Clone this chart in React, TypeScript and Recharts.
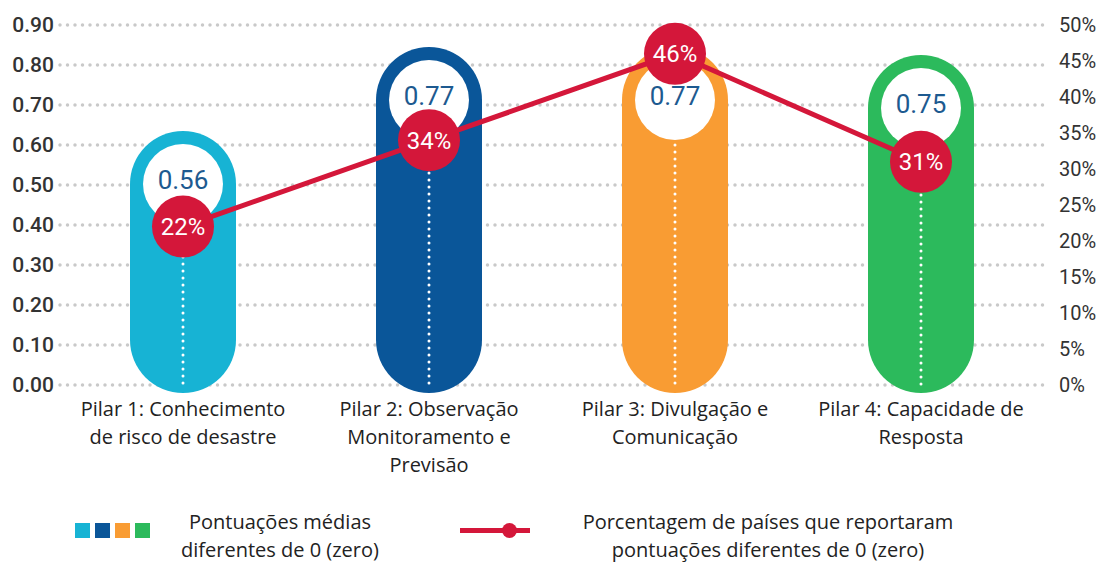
import { ComposedChart, Bar, Line, XAxis, YAxis, CartesianGrid } from 'recharts';

const pillars = [
  'Pilar 1: Conhecimento\nde risco de desastre',
  'Pilar 2: Observação\nMonitoramento e\nPrevisão',
  'Pilar 3: Divulgação e\nComunicação',
  'Pilar 4: Capacidade de\nResposta',
];
const avgScores = [0.56, 0.77, 0.77, 0.75];
const countryShare = [22, 34, 46, 31];
const scoreTicks = [0, 0.1, 0.2, 0.3, 0.4, 0.5, 0.6, 0.7, 0.8, 0.9];
const shareTicks = [0, 5, 10, 15, 20, 25, 30, 35, 40, 45, 50];
const barColors = ['#17b3d4', '#0a5699', '#f99c33', '#2cba5c'];

const RED = '#d4173a';

const data = pillars.map((name, i) => ({ name, score: avgScores[i], share: countryShare[i] }));

// pill shaped bar: white disc on top with the value, dotted line down the middle
function PillBar(props: any) {
  const { x, y, width, height, index, payload } = props;
  const r = width / 2;
  const top = y - 30;
  const bottom = y + height + 8;
  const cx = x + r;
  const cy = top + r;
  const inner = r - 13;
  return (
    <g>
      <rect x={x} y={top} width={width} height={bottom - top} rx={r} ry={r} fill={barColors[index]} />
      <circle cx={cx} cy={cy} r={inner} fill="#fff" />
      <line
        x1={cx}
        x2={cx}
        y1={cy + inner + 5}
        y2={bottom - 6}
        stroke="#fff"
        strokeWidth={3}
        strokeDasharray="0 7"
        strokeLinecap="round"
      />
      <text x={cx} y={cy - 4} dy="0.36em" textAnchor="middle" fontSize={26} fill="#1d5a90" fontFamily="Roboto">
        {payload.score.toFixed(2)}
      </text>
    </g>
  );
}

function ShareDot(props: any) {
  const { cx, cy, payload } = props;
  return (
    <g>
      <circle cx={cx} cy={cy} r={31} fill={RED} />
      <text x={cx} y={cy} dy="0.36em" textAnchor="middle" fontSize={24} fill="#fff" fontFamily="Roboto">
        {payload.share}%
      </text>
    </g>
  );
}

function PillarTick(props: any) {
  const { x, y, payload } = props;
  const lines = String(payload.value).split('\n');
  return (
    <g>
      {lines.map((l, i) => (
        <text
          key={i}
          x={x}
          y={y + 31 + i * 28}
          textAnchor="middle"
          fontSize={20}
          fill="#222"
          fontFamily="'Open Sans'"
        >
          {l}
        </text>
      ))}
    </g>
  );
}

const legendText: React.CSSProperties = {
  position: 'absolute',
  fontFamily: "'Open Sans'",
  fontSize: 20,
  color: '#222',
  textAlign: 'center',
  lineHeight: '28px',
};

export default function App() {
  return (
    <div style={{ position: 'absolute', left: 0, top: 0, width: 1106, height: 565, background: '#fff' }}>
      <ComposedChart width={1106} height={565} data={data} margin={{ top: 25, right: 0, bottom: 0, left: 0 }}>
        <CartesianGrid
          yAxisId="left"
          vertical={false}
          stroke="#c9c9c9"
          strokeWidth={3.5}
          strokeDasharray="0 7.5"
          strokeLinecap="round"
        />
        <XAxis
          dataKey="name"
          height={180}
          axisLine={false}
          tickLine={false}
          tickSize={0}
          tickMargin={0}
          interval={0}
          tick={<PillarTick />}
        />
        <YAxis
          yAxisId="left"
          domain={[0, 0.9]}
          ticks={scoreTicks}
          width={60}
          axisLine={false}
          tickLine={false}
          tickSize={0}
          tickMargin={6}
          tickFormatter={(v: number) => v.toFixed(2)}
          tick={{ fontSize: 21, fill: '#333', fontFamily: 'Roboto', fontWeight: 500 }}
        />
        <YAxis
          yAxisId="right"
          orientation="right"
          domain={[0, 50]}
          ticks={shareTicks}
          width={62}
          axisLine={false}
          tickLine={false}
          tickSize={0}
          tickMargin={15}
          tickFormatter={(v: number) => `${v}%`}
          tick={{ fontSize: 20, fill: '#333', fontFamily: 'Roboto' }}
        />
        <Bar yAxisId="left" dataKey="score" barSize={106} shape={<PillBar />} isAnimationActive={false} />
        <Line
          yAxisId="right"
          dataKey="share"
          stroke={RED}
          strokeWidth={5}
          dot={<ShareDot />}
          activeDot={false}
          isAnimationActive={false}
        />
      </ComposedChart>

      {/* legend */}
      {barColors.map((c, i) => (
        <div
          key={c}
          style={{ position: 'absolute', left: 75 + i * 20, top: 523, width: 15, height: 15, background: c }}
        />
      ))}
      <div style={{ ...legendText, left: 150, top: 508, width: 260 }}>
        Pontuações médias
        <br />
        diferentes de 0 (zero)
      </div>
      <div style={{ position: 'absolute', left: 460, top: 528, width: 70, height: 5, background: RED }} />
      <div
        style={{ position: 'absolute', left: 502, top: 523, width: 15, height: 15, borderRadius: 8, background: RED }}
      />
      <div style={{ ...legendText, left: 548, top: 508, width: 440 }}>
        Porcentagem de países que reportaram
        <br />
        pontuações diferentes de 0 (zero)
      </div>
    </div>
  );
}
